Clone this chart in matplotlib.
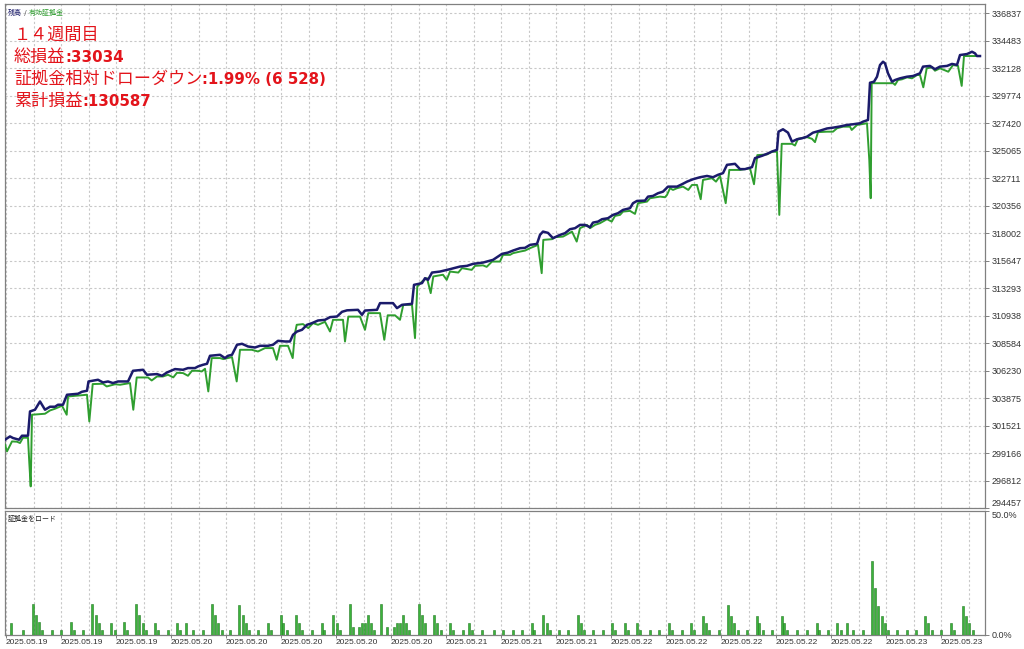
import matplotlib
matplotlib.use("Agg")
import matplotlib.pyplot as plt
import numpy as np

plt.rcParams['font.family'] = ['DejaVu Sans', 'Noto Sans CJK JP']

# time axis = bar index of the tester graph
bal_t = [5, 10, 13, 19, 22, 28, 30, 35, 40, 45, 50, 55, 58, 63, 67, 78, 82, 87, 88.5, 98,
         103, 108, 113, 118, 128, 133, 143, 147, 157, 162, 167, 175, 183, 188, 195, 198, 203, 207, 210, 220,
         225, 228, 232, 237, 242, 248, 255, 260, 268, 273, 278, 285, 290, 293, 297, 302, 307, 312, 318, 325,
         330, 337, 342, 347, 358, 362, 365, 377, 380, 393, 397, 402, 412, 414, 422, 425, 428, 432, 440, 450,
         460, 467, 473, 483, 493, 502, 508, 513, 520, 525, 530, 537, 540, 543, 548, 553, 560, 565, 570, 575,
         580, 585, 590, 593, 598, 602, 608, 613, 618, 623, 630, 633, 637, 645, 648, 653, 658, 663, 668, 677,
         682, 687, 693, 700, 707, 713, 718, 723, 727, 735, 740, 745, 752, 755, 762, 767, 772, 777, 778.5, 783,
         788, 792, 797, 802, 807, 813, 820, 827, 833, 840, 847, 853, 860, 863, 868, 870, 874, 877, 880, 883,
         885, 888, 892, 895, 900, 907, 913, 920, 923, 930, 935, 940, 947, 952, 957, 960, 967, 972, 975, 977, 980]
balance = [300308, 300590, 300453, 300308, 300650, 300650, 302730, 302876, 303586, 302876,
           303133, 303133, 303304, 303304, 304160, 304246, 304417, 304502, 305299, 305444,
           305213, 305299, 305162, 305299, 305299, 306215, 306300, 305872, 305932, 305787,
           306069, 306360, 306300, 306446, 306446, 306583, 306728, 306814, 307499, 307584,
           307302, 307499, 307584, 308441, 308526, 308295, 308209, 308355, 308355, 308441,
           308783, 308723, 308723, 309297, 309579, 309725, 310153, 310298, 310521, 310581,
           310812, 310863, 311266, 311394, 311437, 311009, 311377, 311437, 312010, 312010,
           311582, 311865, 311951, 313577, 313723, 314151, 314005, 314630, 314716, 314921,
           315144, 315204, 315375, 315486, 315717, 316231, 316342, 316514, 316719, 316745,
           317002, 317087, 317858, 318140, 318029, 317575, 317858, 318003, 318346, 318431,
           318714, 318714, 318517, 318911, 318996, 319202, 319287, 319570, 319715, 319998,
           320143, 320572, 320768, 320794, 321137, 321196, 321427, 321564, 321992, 321992,
           322198, 322420, 322626, 322797, 322908, 322797, 323004, 323149, 323860, 323946,
           323492, 323492, 323663, 324434, 324631, 324802, 324999, 325145, 326701, 326907,
           326616, 325846, 326051, 326137, 326274, 326616, 326787, 326976, 327044, 327147,
           327275, 327335, 327421, 327558, 327704, 330896, 330982, 331410, 332412, 332694,
           332557, 331701, 330982, 331127, 331273, 331410, 331470, 331701, 332275, 332335,
           332052, 332275, 332335, 332506, 332421, 333267, 333353, 333550, 333413, 333182, 333182]

eq_t = [5, 7, 12, 17, 20, 23, 28, 29.3, 30.7, 32, 45, 50, 55, 62, 66.7, 68, 87, 89.3, 92.7, 103,
        106.7, 115, 120, 130, 133.3, 136.7, 148, 151.7, 157, 163, 168, 173.3, 177, 183, 188, 192, 198, 201.7, 205, 208.3,
        211.7, 220, 223.3, 232, 236.7, 240, 251.7, 258, 265, 273, 276.7, 280, 288, 292.7, 295, 296.7, 303, 308.3, 313, 318,
        325, 330, 333, 343, 345, 348.3, 360, 365, 368.3, 380, 384.3, 387.7, 395, 400, 403.3, 412, 415, 417.3, 422, 427,
        430.7, 433.3, 443, 446.7, 450, 458.3, 462, 471.7, 475, 483, 486.7, 492, 500, 503, 510, 513, 520, 525, 530, 538,
        541.7, 543.3, 552, 555, 563, 568, 572, 576.7, 580, 587, 590, 595, 600, 607, 611.7, 615, 620, 623, 630, 635,
        638, 647, 650, 660, 665, 667, 670, 673, 677, 683, 688.3, 692, 697, 700.7, 703, 712, 716, 720, 725.7, 729.3,
        740, 750, 754, 757.3, 767, 772, 777, 779.3, 781.7, 792, 795, 798, 807, 812, 815, 818, 827, 833, 837, 843,
        850, 851.7, 857, 867, 869.3, 870.7, 871.7, 893.3, 895, 898, 902, 907, 912, 917, 920, 923.3, 926.7, 932, 935, 940,
        948.3, 953, 958, 961.7, 964, 980]
equity = [299880, 299306, 300162, 300136, 300025, 300479, 300479, 298339, 296310, 302448,
          302533, 302816, 302962, 303218, 302448, 304014, 304160, 301874, 305076, 305102,
          304871, 305059, 305016, 305162, 302876, 305641, 305641, 305384, 305727, 305727,
          305872, 305650, 306044, 306018, 305786, 306215, 306215, 306155, 306386, 304446,
          307302, 307302, 307216, 307387, 305299, 308013, 308013, 307867, 308158, 308158,
          307156, 308355, 308355, 307302, 309442, 310153, 310213, 309870, 310298, 310153,
          310409, 309579, 310581, 310581, 308723, 310855, 310855, 309725, 311154, 311154,
          308869, 310967, 310967, 310581, 311865, 311865, 309014, 313432, 313860, 314151,
          312867, 314296, 314442, 314005, 314716, 314630, 315007, 314861, 315204, 315247,
          315118, 315572, 315572, 316145, 316145, 316290, 316427, 316512, 316719, 317002,
          314579, 317430, 317490, 317661, 317712, 317943, 318140, 317284, 318431, 318714,
          318431, 318714, 318860, 319202, 318996, 319484, 319570, 319853, 319913, 319656,
          320572, 320709, 320999, 321137, 321085, 321282, 321856, 321710, 321856, 321992,
          321710, 322138, 322138, 320914, 322566, 322711, 322420, 322908, 320572, 323423,
          323423, 323569, 322198, 324691, 324751, 324982, 324982, 319570, 325659, 325659,
          325513, 326087, 326232, 326087, 325805, 326661, 326701, 326701, 326993, 327130,
          327130, 326847, 327275, 327421, 324270, 320999, 330853, 330853, 330707, 331127,
          331187, 331359, 331273, 331556, 331556, 330503, 332129, 332215, 331924, 332129,
          331838, 332412, 332335, 330622, 333182, 333182]

load_t = [11, 23.3, 32.7, 36, 39.3, 42.3, 51.7, 61, 70.7, 74, 82.7, 92.3, 95.7, 99, 102, 111, 115, 124, 126.7, 136,
          139.3, 142.7, 145.7, 155, 158.3, 167.7, 177.3, 180, 186, 193.3, 202.7, 212, 215, 218.3, 221.7, 230, 239.3, 242.7, 246, 249,
          258.3, 267.7, 271, 280.7, 283.3, 286.7, 296, 299, 302.3, 311.7, 321.7, 324.3, 333.3, 336.7, 340, 350, 352.7, 359.3, 362.3, 365,
          367.7, 371, 374.3, 381, 386.7, 394, 396.7, 400, 403.3, 406, 409.3, 419, 421.7, 425, 434.3, 437.3, 440.7, 450, 453.3, 462.7,
          469, 472.3, 481.7, 494, 503, 512.7, 522.3, 531.7, 534.3, 543.3, 546.7, 550, 559.3, 568.3, 577.7, 581, 584, 593.3, 602.7, 612.3,
          615, 625, 627.7, 637.3, 640, 650, 659.3, 669, 671.7, 681.7, 690.7, 694, 703.3, 706, 709.3, 719, 728.3, 731, 734.3, 737.7,
          747.3, 756.7, 759.3, 762.7, 772.3, 781.7, 784.3, 787.3, 797.3, 806.7, 816.7, 819.3, 828.3, 837.3, 840.7, 847.3, 852.7, 862.7,
          871.7, 875, 878.3, 881.7, 885, 887.7, 896.7, 906.7, 916, 925, 928.3, 931.7, 941, 950.7, 954, 962.7, 966, 969.3, 972.7]
load_pct = [5.0, 2.0, 12.5, 8.1, 5.4, 2.0, 2.0, 2.0, 5.4, 2.0, 2.0, 12.5, 8.1, 4.8, 2.0, 5.0, 2.0, 5.4, 2.0, 12.5,
            8.1, 5.0, 2.0, 5.0, 2.0, 2.0, 5.0, 2.0, 5.0, 2.0, 2.0, 12.5, 8.1, 5.0, 2.0, 2.0, 12.1, 8.1, 5.0, 2.0,
            2.0, 5.0, 2.0, 8.1, 5.0, 2.0, 8.1, 5.0, 2.0, 2.0, 5.0, 2.0, 8.1, 5.0, 2.0, 12.5, 3.3, 3.3, 5.0, 5.0,
            8.1, 5.0, 2.0, 12.5, 3.3, 3.3, 5.0, 5.0, 8.1, 5.0, 2.0, 12.5, 8.1, 5.0, 8.1, 5.0, 2.0, 5.0, 2.0, 2.0,
            5.0, 2.0, 2.0, 2.0, 2.0, 2.0, 2.0, 5.0, 2.0, 8.1, 5.0, 2.0, 2.0, 2.0, 8.1, 5.0, 2.0, 2.0, 2.0, 5.0,
            2.0, 5.0, 2.0, 5.0, 2.0, 2.0, 2.0, 5.0, 2.0, 2.0, 5.0, 2.0, 7.7, 5.0, 2.0, 2.0, 12.1, 7.7, 5.0, 2.0,
            2.0, 7.7, 5.0, 2.0, 2.0, 7.7, 5.0, 2.0, 2.0, 2.0, 5.0, 2.0, 2.0, 5.0, 2.0, 5.0, 2.0, 2.0,
            29.8, 18.8, 11.7, 7.7, 5.0, 2.0, 2.0, 2.0, 2.0, 7.7, 5.0, 2.0, 2.0, 5.0, 2.0, 11.7, 7.7, 5.0, 2.0]

ytick_vals = [336837, 334483, 332128, 329774, 327420, 325065, 322711, 320356, 318002, 315647,
              313293, 310938, 308584, 306230, 303875, 301521, 299166, 296812, 294457]
xtick_t = [6, 61, 116, 171, 226, 281, 336, 391, 446, 501, 556, 611, 666, 721, 776, 831, 886, 941]
xtick_lbl = ['2025.05.19'] * 3 + ['2025.05.20'] * 5 + ['2025.05.21'] * 3 + ['2025.05.22'] * 5 + ['2025.05.23'] * 2

header = [
    [('１４週間目', 'normal')],
    [('総損益', 'normal'), (':33034', 'bold')],
    [('証拠金相対ドローダウン', 'normal'), (':1.99% (6 528)', 'bold')],
    [('累計損益', 'normal'), (':130587', 'bold')],
]

W, H = 1024, 649
fig = plt.figure(figsize=(W / 100, H / 100), dpi=100)
fig.patch.set_facecolor('white')


def rect(l, t, r, b):
    return [l / W, 1 - b / H, (r - l) / W, (b - t) / H]


ax = fig.add_axes(rect(5, 4, 985, 508))
ax2 = fig.add_axes(rect(5, 511, 985, 635), sharex=ax)

grid_kw = dict(color='#c8c8c8', lw=0.8, ls=(0, (2, 2)))
for a in (ax, ax2):
    for s in a.spines.values():
        s.set_color('#808080')
        s.set_linewidth(0.9)
    for gx in np.arange(6, 985, 27.5):
        a.axvline(gx, zorder=0, **grid_kw)
for v in ytick_vals:
    ax.axhline(v, zorder=0, **grid_kw)

ax.plot(eq_t, equity, color='#2f9e2f', lw=1.4, zorder=3)
ax.plot(bal_t, balance, color='#1b1b6b', lw=1.8, zorder=4)
ax.set_xlim(5, 985)
ax.set_ylim(294480, 337640)

ax.yaxis.tick_right()
ax.set_yticks(ytick_vals)
ax.set_yticklabels([str(v) for v in ytick_vals])
ax.tick_params(axis='y', direction='out', length=3, width=0.7, color='#808080',
               labelsize=6.5, labelcolor='#333333', pad=2)
ax.tick_params(axis='x', bottom=False, labelbottom=False)
for lbl in ax.get_yticklabels():
    lbl.set_fontfamily('Liberation Sans')
    if lbl.get_text() == '294457':
        lbl.set_va('bottom')

ax2.bar(load_t, load_pct, width=1.7, color='#3bb33b', edgecolor='#237a23', lw=0.4, zorder=3)
ax2.set_ylim(0, 50)
ax2.yaxis.tick_right()
ax2.set_yticks([0, 50])
ax2.set_yticklabels(['0.0%', '50.0%'])
ax2.tick_params(axis='y', direction='out', length=3, width=0.7, color='#808080',
                labelsize=6.5, labelcolor='#333333', pad=2)
for lbl in ax2.get_yticklabels():
    lbl.set_fontfamily('Liberation Sans')
    if lbl.get_text() == '50.0%':
        lbl.set_va('top')
ax2.set_xticks(xtick_t)
ax2.set_xticklabels(xtick_lbl)
ax2.tick_params(axis='x', direction='out', length=2, width=0.7, color='#808080',
                labelsize=6, labelcolor='#333333', pad=1)
for lbl in ax2.get_xticklabels():
    lbl.set_ha('left')
    lbl.set_fontfamily('Liberation Sans')

# text drawn piece by piece so each part keeps its own font
renderer = fig.canvas.get_renderer()


def chain(x, y, parts):
    for s, color, family, weight, size in parts:
        t = fig.text(x / W, 1 - y / H, s, color=color, fontfamily=family,
                     fontweight=weight, fontsize=size, va='baseline', ha='left')
        x += t.get_window_extent(renderer).width


red = '#e3141b'
for i, line in enumerate(header):
    parts = []
    for s, w in line:
        if w == 'normal':
            parts.append((s, red, 'Noto Sans CJK JP', w, 12.3))
        else:
            parts.append((s, red, 'DejaVu Sans', w, 10.8))
    chain(14, 40 + 22 * i, parts)

chain(8, 15, [('残高', '#1b1b6b', 'Noto Sans CJK JP', 'normal', 5),
              (' / ', '#555555', 'DejaVu Sans', 'normal', 5),
              ('有効証拠金', '#2f9e2f', 'Noto Sans CJK JP', 'normal', 5)])
chain(8, 521, [('証拠金をロード', '#222222', 'Noto Sans CJK JP', 'normal', 5)])

fig.savefig('out.png', dpi=100, facecolor='white')
